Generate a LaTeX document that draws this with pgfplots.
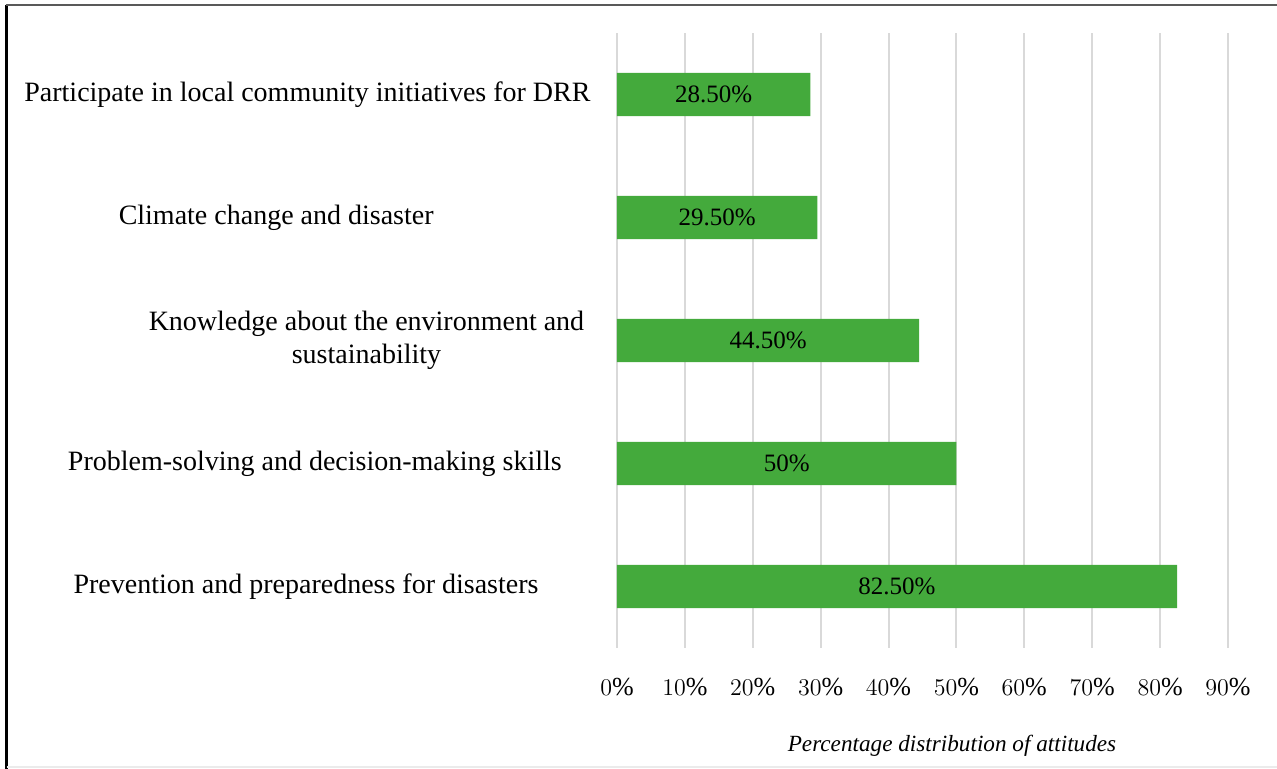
\documentclass[border=0pt]{standalone}
\usepackage{fontspec}
\setmainfont{Liberation Serif}
\usepackage{pgfplots}
\pgfplotsset{compat=1.18}
\usepackage{pgfplotstable}
\definecolor{barg}{HTML}{44AA3C}
\definecolor{gridg}{HTML}{D9D9D9}

\pgfplotstableread[col sep=comma]{
idx,val,lab
0,82.5,82.50
1,50,50
2,44.5,44.50
3,29.5,29.50
4,28.5,28.50
}\datatable

\begin{document}
\begin{tikzpicture}
\useasboundingbox (-308.5pt,-60.5pt) rectangle (330pt,324pt);
\begin{axis}[
  at={(0,0)}, anchor=south west,
  scale only axis, width=305.5pt, height=307.5pt,
  xmin=0, xmax=90, ymin=-0.5, ymax=4.5,
  axis line style={draw=none},
  major tick length=0pt,
  xmajorgrids, grid style={gridg, line width=1pt},
  xtick={0,10,...,90},
  xticklabel={\pgfmathprintnumber{\tick}\%},
  xticklabel style={font=\fontsize{13}{15}\selectfont, anchor=base, yshift=-24pt},
  ytick=\empty,
  clip=false,
]
\addplot[xbar, bar width=21.7pt, fill=barg, draw=none] table[x=val, y=idx] {\datatable};
\addplot[draw=none, mark=none, nodes near coords={\pgfplotspointmeta\%},
  nodes near coords align=center,
  nodes near coords style={font=\fontsize{12.5}{14}\selectfont, text=black, anchor=center},
  point meta=explicit symbolic]
  table[x expr=\thisrow{val}/2, y=idx, meta=lab] {\datatable};
\begin{scope}[every node/.style={font=\fontsize{14}{16.5}\selectfont, align=center}]
\node at (axis cs:-45.6,4) {Participate in local community initiatives for DRR};
\node at (axis cs:-50.2,3) {Climate change and disaster};
\node at (axis cs:-36.9,2) {Knowledge about the environment and\\sustainability};
\node at (axis cs:-44.5,1) {Problem-solving and decision-making skills};
\node at (axis cs:-45.8,0) {Prevention and preparedness for disasters};
\end{scope}
\end{axis}
\node[anchor=base, font=\fontsize{11.6}{13}\selectfont\itshape] at (167.5pt,-52pt) {Percentage distribution of attitudes};
\draw[black, line width=1.5pt] (-305pt,321.5pt) -- (-305pt,-60.5pt);
\draw[black!65, line width=1pt] (-305.7pt,321.5pt) -- (330pt,321.5pt);
\draw[black!8, line width=0.8pt] (-305pt,-59.6pt) -- (330pt,-59.6pt);
\end{tikzpicture}
\end{document}
